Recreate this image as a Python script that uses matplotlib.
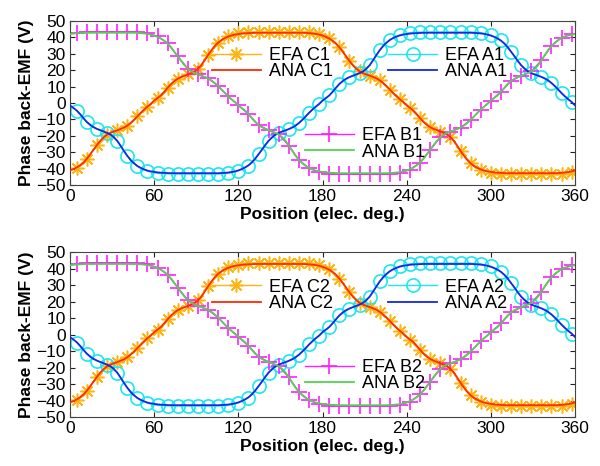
import numpy as np
import matplotlib
matplotlib.use("Agg")
import matplotlib.pyplot as plt

plt.rcParams["font.family"] = ["Liberation Sans", "DejaVu Sans"]

# Rotor position grids (electrical degrees)
ana_theta = np.linspace(0, 360, 151)     # analytical curve, 2.4 deg step
efa_theta = np.linspace(4.8, 357.6, 50)  # FE samples, 7.2 deg step

# Analytical phase back-EMF (V)
ana_a = [-1.5, -3.0, -4.6, -6.8, -9.3, -11.6, -13.4, -14.8, -15.8, -16.6,
         -17.4, -18.2, -19.2, -20.8, -23.0, -26.0, -29.2, -32.2, -34.8, -36.8,
         -38.4, -39.6, -40.5, -41.2, -41.7, -42.0, -42.3, -42.5, -42.6, -42.7,
         -42.8, -42.8, -42.8, -42.8, -42.8, -42.8, -42.8, -42.8, -42.8, -42.8,
         -42.8, -42.8, -42.8, -42.8, -42.8, -42.7, -42.6, -42.4, -42.1, -41.7,
         -41.1, -40.3, -39.3, -38.0, -36.3, -34.0, -31.3, -28.5, -25.6, -23.0,
         -20.9, -19.3, -18.2, -17.4, -16.7, -15.9, -15.0, -13.8, -12.2, -10.3,
         -8.2, -6.0, -4.0, -2.2, -0.6, 1.5, 3.0, 4.6, 6.8, 9.3,
         11.6, 13.4, 14.8, 15.8, 16.6, 17.4, 18.2, 19.2, 20.8, 23.0,
         26.0, 29.2, 32.2, 34.8, 36.8, 38.4, 39.6, 40.5, 41.2, 41.7,
         42.0, 42.3, 42.5, 42.6, 42.7, 42.8, 42.8, 42.8, 42.8, 42.8,
         42.8, 42.8, 42.8, 42.8, 42.8, 42.8, 42.8, 42.8, 42.8, 42.8,
         42.7, 42.6, 42.4, 42.1, 41.7, 41.1, 40.3, 39.3, 38.0, 36.3,
         34.0, 31.3, 28.5, 25.6, 23.0, 20.9, 19.3, 18.2, 17.4, 16.7,
         15.9, 15.0, 13.8, 12.2, 10.3, 8.2, 6.0, 4.0, 2.2, 0.6,
         -1.5]

ana_b = [42.0, 42.3, 42.5, 42.6, 42.7, 42.8, 42.8, 42.8, 42.8, 42.8,
         42.8, 42.8, 42.8, 42.8, 42.8, 42.8, 42.8, 42.8, 42.8, 42.8,
         42.7, 42.6, 42.4, 42.1, 41.7, 41.1, 40.3, 39.3, 38.0, 36.3,
         34.0, 31.3, 28.5, 25.6, 23.0, 20.9, 19.3, 18.2, 17.4, 16.7,
         15.9, 15.0, 13.8, 12.2, 10.3, 8.2, 6.0, 4.0, 2.2, 0.6,
         -1.5, -3.0, -4.6, -6.8, -9.3, -11.6, -13.4, -14.8, -15.8, -16.6,
         -17.4, -18.2, -19.2, -20.8, -23.0, -26.0, -29.2, -32.2, -34.8, -36.8,
         -38.4, -39.6, -40.5, -41.2, -41.7, -42.0, -42.3, -42.5, -42.6, -42.7,
         -42.8, -42.8, -42.8, -42.8, -42.8, -42.8, -42.8, -42.8, -42.8, -42.8,
         -42.8, -42.8, -42.8, -42.8, -42.8, -42.7, -42.6, -42.4, -42.1, -41.7,
         -41.1, -40.3, -39.3, -38.0, -36.3, -34.0, -31.3, -28.5, -25.6, -23.0,
         -20.9, -19.3, -18.2, -17.4, -16.7, -15.9, -15.0, -13.8, -12.2, -10.3,
         -8.2, -6.0, -4.0, -2.2, -0.6, 1.5, 3.0, 4.6, 6.8, 9.3,
         11.6, 13.4, 14.8, 15.8, 16.6, 17.4, 18.2, 19.2, 20.8, 23.0,
         26.0, 29.2, 32.2, 34.8, 36.8, 38.4, 39.6, 40.5, 41.2, 41.7,
         42.0]

ana_c = [-41.1, -40.3, -39.3, -38.0, -36.3, -34.0, -31.3, -28.5, -25.6, -23.0,
         -20.9, -19.3, -18.2, -17.4, -16.7, -15.9, -15.0, -13.8, -12.2, -10.3,
         -8.2, -6.0, -4.0, -2.2, -0.6, 1.5, 3.0, 4.6, 6.8, 9.3,
         11.6, 13.4, 14.8, 15.8, 16.6, 17.4, 18.2, 19.2, 20.8, 23.0,
         26.0, 29.2, 32.2, 34.8, 36.8, 38.4, 39.6, 40.5, 41.2, 41.7,
         42.0, 42.3, 42.5, 42.6, 42.7, 42.8, 42.8, 42.8, 42.8, 42.8,
         42.8, 42.8, 42.8, 42.8, 42.8, 42.8, 42.8, 42.8, 42.8, 42.8,
         42.7, 42.6, 42.4, 42.1, 41.7, 41.1, 40.3, 39.3, 38.0, 36.3,
         34.0, 31.3, 28.5, 25.6, 23.0, 20.9, 19.3, 18.2, 17.4, 16.7,
         15.9, 15.0, 13.8, 12.2, 10.3, 8.2, 6.0, 4.0, 2.2, 0.6,
         -1.5, -3.0, -4.6, -6.8, -9.3, -11.6, -13.4, -14.8, -15.8, -16.6,
         -17.4, -18.2, -19.2, -20.8, -23.0, -26.0, -29.2, -32.2, -34.8, -36.8,
         -38.4, -39.6, -40.5, -41.2, -41.7, -42.0, -42.3, -42.5, -42.6, -42.7,
         -42.8, -42.8, -42.8, -42.8, -42.8, -42.8, -42.8, -42.8, -42.8, -42.8,
         -42.8, -42.8, -42.8, -42.8, -42.8, -42.7, -42.6, -42.4, -42.1, -41.7,
         -41.1]

# Finite-element phase back-EMF (V)
efa_a = [-4.8, -11.6, -15.8, -18.4, -23.0, -32.2, -38.6, -41.6, -42.9, -43.2,
         -43.3, -43.3, -43.3, -43.3, -43.3, -42.9, -41.4, -38.2, -31.3, -23.0,
         -18.2, -15.9, -12.2, -6.0, -0.6, 4.6, 11.6, 15.8, 18.2, 23.0,
         32.2, 38.6, 41.6, 42.9, 43.2, 43.3, 43.3, 43.3, 43.3, 43.3,
         42.9, 41.4, 38.2, 31.3, 23.0, 18.2, 15.9, 12.2, 6.0, 0.6]

efa_b = [42.9, 43.3, 43.3, 43.3, 43.3, 43.3, 43.2, 42.5, 40.6, 36.3,
         28.5, 20.9, 17.4, 15.0, 10.3, 4.0, -1.5, -6.8, -13.4, -16.6,
         -19.2, -26.0, -34.8, -39.8, -42.1, -43.0, -43.3, -43.3, -43.3, -43.3,
         -43.3, -43.2, -42.5, -40.6, -36.3, -28.5, -20.9, -17.4, -15.0, -10.3,
         -4.0, 1.5, 6.8, 13.4, 16.6, 19.2, 26.0, 34.8, 39.8, 42.1]

efa_c = [-39.5, -34.0, -25.6, -19.3, -16.7, -13.8, -8.2, -2.2, 3.0, 9.3,
         14.8, 17.4, 20.8, 29.2, 36.8, 40.7, 42.4, 43.1, 43.3, 43.3,
         43.3, 43.3, 43.3, 43.1, 42.1, 39.5, 34.0, 25.6, 19.3, 16.7,
         13.8, 8.2, 2.2, -3.0, -9.3, -14.8, -17.4, -20.8, -29.2, -36.8,
         -40.7, -42.4, -43.1, -43.3, -43.3, -43.3, -43.3, -43.3, -43.1, -42.1]

panel_tags = ["1", "2"]

x_ticks = [0, 60, 120, 180, 240, 300, 360]
y_ticks = [-50, -40, -30, -20, -10, 0, 10, 20, 30, 40, 50]

col_efa_c = "#ffb412"
col_ana_c = "#ff2a00"
col_efa_a = "#1ee6f0"
col_ana_a = "#1428e6"
col_efa_b = "#ff1eff"
col_ana_b = "#50d250"

asterisk = (8, 2, 0)

fig = plt.figure(figsize=(6.0, 4.66), dpi=100)
axes = [fig.add_axes([0.1167, 0.603, 0.8417, 0.352]),
        fig.add_axes([0.1167, 0.105, 0.8417, 0.354])]

for ax, tag in zip(axes, panel_tags):
    h_ec, = ax.plot(efa_theta, efa_c, color=col_efa_c, lw=1.0, marker=asterisk,
                    ms=10, mew=1.1, zorder=2)
    h_ea, = ax.plot(efa_theta, efa_a, color=col_efa_a, lw=1.0, marker="o",
                    ms=9.5, mew=1.2, mfc="none", zorder=2)
    h_eb, = ax.plot(efa_theta, efa_b, color=col_efa_b, lw=1.0, marker="+",
                    ms=12, mew=1.2, zorder=2)
    h_ac, = ax.plot(ana_theta, ana_c, color=col_ana_c, lw=1.3, zorder=3)
    h_aa, = ax.plot(ana_theta, ana_a, color=col_ana_a, lw=1.3, zorder=3)
    h_ab, = ax.plot(ana_theta, ana_b, color=col_ana_b, lw=1.3, zorder=3)

    ax.set_xlim(0, 360)
    ax.set_ylim(-50, 50)
    ax.set_xticks(x_ticks)
    ax.set_yticks(y_ticks)
    ax.tick_params(direction="in", top=True, right=True, length=3.6,
                   width=0.8, labelsize=12.5, colors="#222222",
                   labelcolor="black", pad=3)
    for sp in ax.spines.values():
        sp.set_color("#444444")
        sp.set_linewidth(0.8)
    ax.set_xlabel("Position (elec. deg.)", fontsize=12.5, fontweight="bold",
                  labelpad=2)
    ax.set_ylabel("Phase back-EMF (V)", fontsize=12.5, fontweight="bold",
                  labelpad=2)

    leg_kw = dict(loc="center left", frameon=False, borderpad=0,
                  borderaxespad=0, handlelength=2.7, handletextpad=0.45,
                  labelspacing=-0.05, fontsize=13, numpoints=1)
    leg_c = ax.legend([h_ec, h_ac], [f"EFA C{tag}", f"ANA C{tag}"],
                      bbox_to_anchor=(0.281, 0.738), **leg_kw)
    ax.add_artist(leg_c)
    leg_a = ax.legend([h_ea, h_aa], [f"EFA A{tag}", f"ANA A{tag}"],
                      bbox_to_anchor=(0.630, 0.738), **leg_kw)
    ax.add_artist(leg_a)
    ax.legend([h_eb, h_ab], [f"EFA B{tag}", f"ANA B{tag}"],
              bbox_to_anchor=(0.465, 0.25), **leg_kw)

fig.savefig("out.png", dpi=100)
